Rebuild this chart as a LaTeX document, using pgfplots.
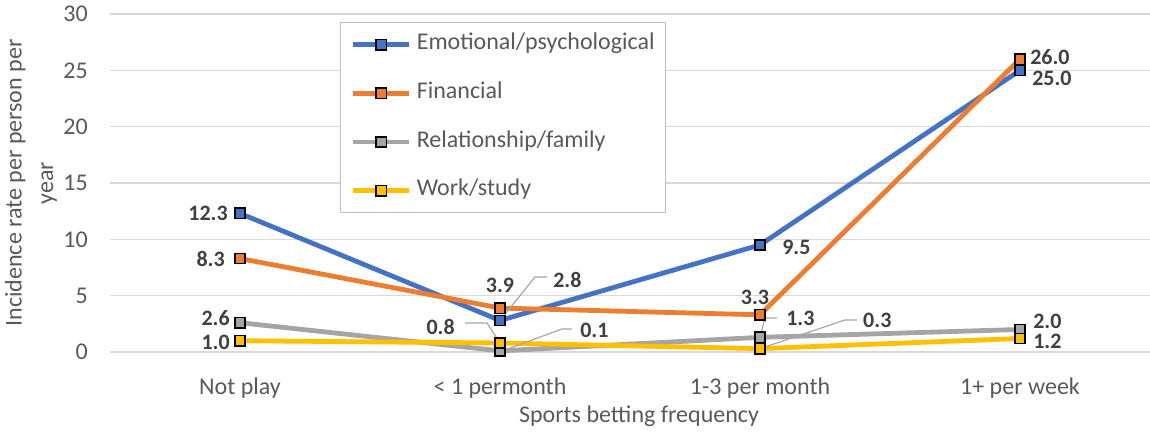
\documentclass[border=0pt]{standalone}
\usepackage{fontspec}
\setmainfont{Carlito}
\usepackage{pgfplots}
\pgfplotsset{compat=1.18}
\definecolor{cblue}{HTML}{4472C4}
\definecolor{corange}{HTML}{ED7D31}
\definecolor{cgray}{HTML}{A5A5A5}
\definecolor{cyellow}{HTML}{FFC000}
\definecolor{gridc}{HTML}{D9D9D9}
\definecolor{txt}{HTML}{595959}
\definecolor{lbl}{HTML}{404040}
\definecolor{lead}{HTML}{A6A6A6}
\definecolor{legb}{HTML}{BFBFBF}
\begin{document}
\begin{tikzpicture}
\begin{axis}[
 scale only axis, width=780pt, height=253.5pt,
 xmin=-0.5, xmax=3.5, ymin=0, ymax=30,
 xtick={0,1,2,3},
 xticklabels={Not play, < 1 permonth, 1-3 per month, 1+ per week},
 ytick={0,5,...,30},
 ymajorgrids, grid style={gridc, line width=1.1pt},
 axis line style={draw=none}, major tick length=0pt, tick style={draw=none},
 /pgf/number format/assume math mode=true,
 tick label style={font=\fontsize{18}{22}\selectfont, text=txt},
 yticklabel style={anchor=east, inner sep=0pt, xshift=-16.5pt},
 xticklabel style={anchor=base, inner sep=0pt, yshift=-32pt},
 xlabel={Sports betting frequency},
 xlabel style={at={(axis description cs:0.5,0)}, anchor=base, yshift=-52.5pt, xshift=6.75pt, inner sep=0pt, font=\fontsize{18}{22}\selectfont, text=txt},
 ylabel={Incidence rate per person per\\year},
 ylabel style={at={(axis description cs:-0.076,0.5)}, anchor=center, align=center, inner sep=0pt, font=\fontsize{18}{23.5}\selectfont, text=txt},
 clip=false,
 every axis plot/.append style={line width=3.6pt, mark=square*, mark size=3.9pt},
 legend cell align=left,
 legend image code/.code={\draw[mark repeat=2, mark phase=2, #1] plot coordinates {(0pt,0pt) (21pt,0pt) (42pt,0pt)};},
 legend style={at={(0.221,0.976)}, anchor=north west, draw=legb, line width=0.8pt, fill=white,
   font=\fontsize{18}{22}\selectfont, text=txt, inner xsep=8pt, inner ysep=8.5pt,
   column sep=3.75pt, row sep=20.5pt, nodes={inner sep=0pt, text height=12pt, text depth=4pt}},
]
\addplot[cblue, mark options={fill=cblue, draw=black, line width=1.1pt}] coordinates {(0,12.3) (1,2.8) (2,9.5) (3,25.0)};
\addlegendentry{Emotional/psychological}
\addplot[corange, mark options={fill=corange, draw=black, line width=1.1pt}] coordinates {(0,8.3) (1,3.9) (2,3.3) (3,26.0)};
\addlegendentry{Financial}
\addplot[cgray, mark options={fill=cgray, draw=black, line width=1.1pt}] coordinates {(0,2.6) (1,0.1) (2,1.3) (3,2.0)};
\addlegendentry{Relationship/family}
\addplot[cyellow, mark options={fill=cyellow, draw=black, line width=1.1pt}] coordinates {(0,1.0) (1,0.8) (2,0.3) (3,1.2)};
\addlegendentry{Work/study}
% leader lines
\draw[lead, line width=0.9pt] (axis cs:1,2.8) -- (axis cs:1.1346,6.657) -- (axis cs:1.1808,6.657);
\draw[lead, line width=0.9pt] (axis cs:1,0.8) -- (axis cs:0.95,2.574) -- (axis cs:0.8654,2.574);
\draw[lead, line width=0.9pt] (axis cs:1.01,0.1) -- (axis cs:1.2385,2.041) -- (axis cs:1.2769,2.041);
\draw[lead, line width=0.9pt] (axis cs:2.0,1.3) -- (axis cs:2.0192,3.018) -- (axis cs:2.0654,3.018);
\draw[lead, line width=0.9pt] (axis cs:2.0,0.3) -- (axis cs:2.3269,2.84) -- (axis cs:2.373,2.84);
% data labels
\begin{scope}[every node/.style={font=\fontsize{16.5}{20}\selectfont\bfseries, text=lbl, inner sep=0pt}]
\node[anchor=east] at (axis cs:-0.0462,12.34) {12.3};
\node[anchor=east] at (axis cs:-0.0577,8.254) {8.3};
\node[anchor=east] at (axis cs:-0.0385,3.018) {2.6};
\node[anchor=east] at (axis cs:-0.0385,0.888) {1.0};
\node at (axis cs:1,5.947) {3.9};
\node[anchor=west] at (axis cs:1.2038,6.39) {2.8};
\node[anchor=east] at (axis cs:0.8269,2.219) {0.8};
\node[anchor=west] at (axis cs:1.3077,1.953) {0.1};
\node at (axis cs:1.9808,4.881) {3.3};
\node[anchor=west] at (axis cs:2.0846,9.319) {9.5};
\node[anchor=west] at (axis cs:2.1,3.018) {1.3};
\node[anchor=west] at (axis cs:2.396,2.84) {0.3};
\node[anchor=west] at (axis cs:3.0385,26.18) {26.0};
\node[anchor=west] at (axis cs:3.0462,24.32) {25.0};
\node[anchor=west] at (axis cs:3.05,2.751) {2.0};
\node[anchor=west] at (axis cs:3.05,0.976) {1.2};
\end{scope}
\end{axis}
\pgfresetboundingbox
\path (-82.5pt,-62.25pt) rectangle (780pt,264pt);
\end{tikzpicture}
\end{document}
